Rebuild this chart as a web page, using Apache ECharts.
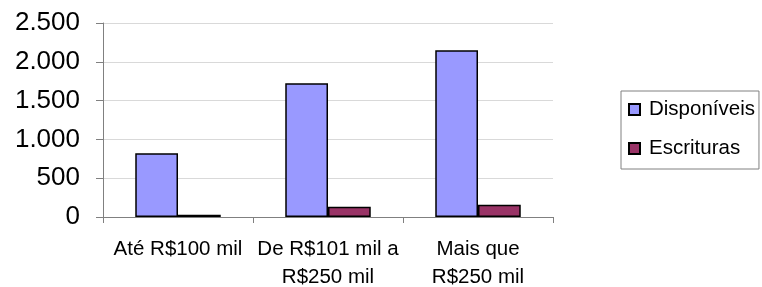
<!DOCTYPE html>
<html>
<head>
<meta charset="utf-8">
<script src="https://cdn.jsdelivr.net/npm/echarts@6/dist/echarts.min.js"></script>
<style>
html,body{margin:0;padding:0;background:#fff;}
#chart{width:762px;height:287px;}
</style>
</head>
<body>
<div id="chart"></div>
<script>
const categories = ['Até R$100 mil', 'De R$101 mil a\nR$250 mil', 'Mais que\nR$250 mil'];
const disponiveis = [820, 1725, 2150];
const escrituras = [30, 133, 158];
const seriesNames = ['Disponíveis', 'Escrituras'];
const yTicks = { min: 0, max: 2500, interval: 500 };

const chart = echarts.init(document.getElementById('chart'));
const font = '"Liberation Sans", Arial, sans-serif';
chart.setOption({
  animation: false,
  backgroundColor: '#ffffff',
  textStyle: { fontFamily: font, color: '#000' },
  grid: { left: 103, right: 209, top: 23, bottom: 70, containLabel: false, outerBoundsMode: 'none' },
  legend: {
    orient: 'vertical',
    left: 621, top: 91,
    padding: [8, 4, 10, 7],
    itemWidth: 11, itemHeight: 11,
    itemGap: 18,
    itemTextGap: 12,
    borderColor: '#808080', borderWidth: 1,
    textStyle: { fontFamily: font, fontSize: 20.5, color: '#000', padding: [0, 0, 0, 4] },
    data: [
      { name: seriesNames[0], icon: 'rect' },
      { name: seriesNames[1], icon: 'rect' }
    ]
  },
  xAxis: {
    type: 'category',
    data: categories,
    axisLine: { lineStyle: { color: '#808080', width: 1 } },
    axisTick: { show: true, length: 6, lineStyle: { color: '#808080' } },
    axisLabel: { fontFamily: font, fontSize: 20.5, color: '#000', margin: 18, lineHeight: 28, interval: 0 }
  },
  yAxis: {
    type: 'value',
    min: yTicks.min, max: yTicks.max, interval: yTicks.interval,
    axisLine: { show: true, lineStyle: { color: '#808080', width: 1 } },
    axisTick: { show: true, length: 7, lineStyle: { color: '#808080' } },
    splitLine: { lineStyle: { color: '#d9d9d9', width: 1 } },
    axisLabel: {
      fontFamily: font, fontSize: 26, color: '#000', margin: 23,
      formatter: v => String(v).replace(/\B(?=(\d{3})+(?!\d))/g, '.')
    }
  },
  series: [
    {
      name: seriesNames[0], type: 'bar', data: disponiveis,
      barGap: '0%', barCategoryGap: '43%',
      itemStyle: { color: '#9999ff', borderColor: '#000', borderWidth: 1.5 }
    },
    {
      name: seriesNames[1], type: 'bar', data: escrituras,
      itemStyle: { color: '#993366', borderColor: '#000', borderWidth: 1.5 }
    }
  ]
});
</script>
</body>
</html>
